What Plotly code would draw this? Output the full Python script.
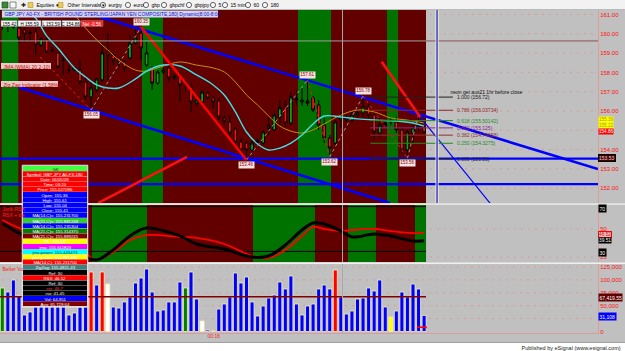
import plotly.graph_objects as go

W, H = 625, 351
FONT = "Liberation Sans"

# ------------------------------------------------------------------ data
bars = list(range(77))
opens = [160.51, 160.40, 160.51, 160.30, 160.20, 160.07, 160.09, 159.42, 159.68, 159.16,
         159.01, 158.64, 158.12, 158.12, 158.12, 157.50, 156.73, 157.09, 157.61, 159.06,
         158.90, 158.75, 158.54, 158.75, 159.52, 160.04, 158.38, 158.23, 157.45, 158.02,
         158.23, 157.71, 157.76, 157.50, 157.24, 156.41, 156.47, 156.93, 156.67, 156.52,
         155.64, 155.43, 155.07, 154.39, 154.34, 153.98, 154.39, 154.34, 155.12, 155.02,
         155.69, 156.21, 155.38, 156.57, 156.47, 156.52, 156.67, 156.31, 155.27, 154.60,
         154.34, 155.53, 155.53, 155.53, 155.79, 155.90, 156.21, 155.79, 154.86, 155.27,
         155.43, 155.43, 155.02, 153.98, 154.86, 155.12, 155.17]
highs = [160.72, 160.61, 160.72, 160.40, 160.30, 160.20, 160.30, 159.83, 159.78, 159.32,
         159.06, 158.80, 158.38, 158.28, 158.64, 157.71, 157.50, 157.71, 159.52, 160.04,
         159.01, 158.75, 158.64, 159.94, 160.30, 160.35, 159.58, 158.33, 158.12, 158.23,
         158.38, 157.92, 158.02, 157.61, 157.45, 156.67, 157.09, 157.04, 156.78, 156.67,
         155.79, 155.79, 155.17, 154.60, 154.50, 154.50, 154.60, 155.02, 155.69, 155.90,
         156.57, 156.57, 156.98, 157.09, 157.19, 157.61, 156.78, 156.57, 155.64, 154.76,
         155.53, 155.95, 155.79, 155.95, 156.05, 156.78, 156.41, 155.95, 155.64, 155.53,
         155.64, 155.69, 155.12, 155.02, 155.27, 155.79, 155.27]
lows = [160.20, 160.09, 160.25, 159.52, 159.58, 159.58, 158.90, 159.32, 159.01, 159.01,
        158.23, 157.87, 157.97, 158.07, 157.35, 156.57, 156.05, 156.98, 157.50, 157.61,
        158.38, 158.28, 158.02, 158.64, 159.42, 158.64, 158.28, 157.09, 157.35, 157.92,
        157.50, 157.61, 156.47, 156.98, 155.95, 156.26, 156.36, 156.57, 156.16, 155.53,
        155.27, 154.65, 154.13, 153.56, 153.46, 153.88, 154.24, 154.24, 154.76, 154.96,
        155.27, 155.17, 155.27, 156.31, 156.26, 156.26, 155.95, 155.02, 154.34, 153.62,
        154.24, 155.12, 155.43, 155.43, 155.64, 155.69, 155.64, 154.50, 154.60, 155.12,
        155.27, 154.86, 153.82, 153.56, 154.34, 154.91, 154.83]
closes = [160.40, 160.51, 160.35, 159.78, 159.99, 160.04, 159.42, 159.73, 159.06, 159.13,
          158.28, 158.62, 158.10, 158.23, 157.50, 156.73, 157.19, 157.66, 159.01, 158.90,
          158.64, 158.54, 158.23, 159.52, 159.78, 159.26, 159.01, 157.45, 158.02, 158.12,
          157.71, 157.81, 157.35, 157.40, 156.47, 156.57, 156.98, 156.67, 156.47, 155.69,
          155.48, 154.86, 154.39, 153.98, 153.98, 154.34, 154.45, 154.91, 155.22, 155.79,
          156.16, 155.38, 156.73, 156.62, 156.57, 156.41, 156.05, 155.27, 154.60, 154.08,
          155.43, 155.64, 155.64, 155.79, 155.90, 156.21, 155.79, 154.91, 155.27, 155.33,
          155.48, 155.02, 153.98, 154.91, 155.12, 155.22, 154.88]

jma_idx = [5, 6, 8, 10, 13, 15, 17, 19, 21, 24, 26, 29, 32, 35, 38, 40, 42, 44, 46, 48,
           50, 52, 54, 56, 58, 61, 64, 67, 71, 74, 76]
jma_val = [161.05, 160.82, 159.89, 159.26, 158.23, 157.76, 157.35, 157.19, 157.19, 157.66,
           158.07, 158.38, 158.33, 157.87, 157.35, 156.83, 155.95, 154.91, 154.29, 153.98,
           154.08, 154.34, 154.76, 155.33, 155.74, 155.69, 155.59, 155.53, 155.48, 155.38,
           155.22]
wma_idx = [12, 13, 15, 17, 19, 21, 24, 26, 29, 32, 35, 38, 40, 42, 44, 46, 48, 50, 52, 54,
           56, 58, 61, 64, 67, 70, 73, 76]
wma_val = [161.15, 160.97, 160.30, 159.68, 159.16, 158.64, 158.12, 158.07, 158.33, 158.54,
           158.38, 158.23, 158.02, 157.50, 156.83, 156.31, 155.74, 155.22, 154.96, 154.86,
           155.02, 155.33, 155.79, 156.05, 155.95, 155.64, 155.53, 155.38]

rsx_idx = [0, 3, 10, 15, 17, 20, 23, 26, 32, 35, 40, 45, 48, 51, 54, 56, 58, 61, 63, 67, 70, 74, 76]
rsx_black = [55.4, 46.4, 33.0, 25.0, 22.3, 31.3, 43.8, 50.9, 43.8, 36.6, 32.1, 25.0, 25.9,
             35.7, 49.1, 55.4, 54.5, 48.2, 42.9, 45.5, 43.8, 39.3, 39.51]
rsx_red = [58.0, 50.9, 40.2, 27.7, 22.3, 29.5, 40.2, 44.6, 42.9, 42.0, 36.6, 25.9, 24.1,
           31.3, 43.8, 51.8, 50.0, 48.2, 49.1, 50.0, 48.2, 46.4, 46.52]

volume = [84300, 76550, 99800, 68800, 32000, 37800, 60000, 72000, 55000, 65000,
          80000, 58000, 32000, 35900, 47500, 55000, 115300, 90100, 115300, 92000,
          47500, 45500, 57200, 66900, 94000, 103700, 121100, 76500, 39700, 41700,
          57200, 57200, 95900, 84300, 115300, 63000, 20300, 2900, 1000, 43600,
          53300, 66900, 113400, 94000, 105600, 57200, 30000, 49400, 64900, 70700,
          95900, 82400, 107600, 53300, 32000, 49400, 53300, 82400, 90100, 82400,
          119200, 66900, 33900, 39700, 63000, 64900, 84300, 78500, 99800, 47500,
          28100, 39700, 76500, 66900, 92000, 82400, 31108]
vol_special = {0: "#008000", 16: "#ff0000", 18: "#ff0000", 19: "#ffffff", 33: "#008000",
               36: "#ffffff", 60: "#ff0000", 70: "#ffff00"}
vol_avg = 67419.55

price_ticks = [152, 153, 154, 155, 156, 157, 158, 159, 160, 161]
price_hidden = [155]          # covered by the value flags in the reference
rsi_ticks = [25, 50]
vol_ticks = [0, 25000, 50000, 75000, 100000, 125000]
vol_hidden = [25000]          # covered by the last-volume flag

fib_ratios = [1.0, 0.786, 0.618, 0.5, 0.382, 0.25, 0.0]
fib_low, fib_high = 153.53, 156.72
fib_from, fib_to = 66.3, 81.2

zz_up = [(16, 25), (44, 55), (59, 65), (73, 75)]
zz_down = [(55, 59), (65, 73)]
zz_main = (25, 44)
zz_pre = ([6.8, 16], [158.80, 156.05])
pivots = [(16, "low"), (25, "high"), (44, "low"), (55, "high"), (59, "low"), (65, "high"), (73, "low")]

upper_channel = ([0, 107.33], [162.42, 152.99])
lower_channel = ([2.83, 69.86], [157.24, 151.23])
red_trend_a = ([68.36, 75.35], [158.55, 155.66])
red_trend_b = ([17.24, 33.28], [151.23, 153.62])
blue_thin = ([75.26, 87.87], [155.69, 151.23])
support_levels = [153.53, 152.21]
crosshair_price = 159.63
crosshair_bar = 61.3
now_bar = 78.33

main_green = [(-0.11, 2.88), (25.17, 28.95), (53.28, 59.23), (69.32, 71.30)]
rsi_green = [(16.16, 26.07), (45.17, 56.34), (62.29, 67.33), (74.36, 76.35)]

info_rows = [
    ("GK", "#40ff40", "#004000"),
    ("Symbol: GBP JPY A0-FX,180", "#ff0000", "white"),
    ("Date: 06/05/09", "#ff0000", "white"),
    ("Time: 03:20", "#ff0000", "white"),
    ("Price: 155.027096", "#ff0000", "white"),
    ("Open: 155.36", "#0000ff", "white"),
    ("High: 155.61", "#0000ff", "white"),
    ("Low: 155.04", "#0000ff", "white"),
    ("Close: 155.41", "#0000ff", "white"),
    ("MA(14,C)s: 155.231700", "#0000ff", "white"),
    ("MA(21,C)s: 155.881248", "#33cc33", "white"),
    ("MA(14,C)s: 155.235304", "#0000ff", "white"),
    ("MA(21,C)s: 155.314370", "#008000", "white"),
    ("MA(21,C)s: 155.889245", "#800000", "white"),
    ("PL: 155.08", "#ffff00", "white"),
    ("jma: 155.611823", "#ff00ff", "white"),
    ("jma power: 155.443473", "#00ffff", "#004040"),
    ("jma power: 155.881483", "#ffff00", "white"),
    ("MA(14,C): 155.231700", "#ff0000", "white"),
    ("ZigZag: 155.4811-43", "#408080", "white"),
    ("Ref: 30", "#000000", "white"),
    ("RSX: 46.52", "#ff0000", "white"),
    ("Ref: 30", "#000000", "white"),
    ("rsx: 46.7", "#000000", "#ff4040"),
    ("rsx: 41.45", "#000000", "white"),
    ("Vol: 64,951", "#0000ff", "white"),
    ("Avg: 65,729.64", "#800000", "white"),
]

# ------------------------------------------------------------------ layout helpers
PX0, DX = 2.3, 5.55


def bx(xpx):
    return (xpx - PX0) / DX


XR = [bx(0), bx(598)]
END = bx(426)
DARK, GREEN, GREY = "#620000", "#007200", "#c0c0c0"

shapes, annotations = [], []


def box(x0, y0, x1, y1, fill=None, line=None, lw=0, layer="above"):
    s = dict(type="rect", xref="paper", yref="paper", x0=x0 / W, x1=x1 / W,
             y0=1 - y1 / H, y1=1 - y0 / H, layer=layer,
             line=dict(width=lw, color=line or "rgba(0,0,0,0)"))
    if fill:
        s["fillcolor"] = fill
    shapes.append(s)


def circ(xc, yc, r, line="#404040", fill="#f8f8f8"):
    shapes.append(dict(type="circle", xref="paper", yref="paper", x0=(xc - r) / W, x1=(xc + r) / W,
                       y0=1 - (yc + r) / H, y1=1 - (yc - r) / H, fillcolor=fill,
                       line=dict(width=0.8, color=line), layer="above"))


def txt(s, x, y, size=5, color="black", xanchor="left", bg=None, border=None, pad=0.5, **kw):
    a = dict(text=s, x=x / W, y=1 - y / H, xref="paper", yref="paper", showarrow=False,
             xanchor=xanchor, yanchor="middle", font=dict(size=size, color=color, family=FONT),
             borderpad=pad)
    if bg:
        a["bgcolor"] = bg
    if border:
        a["bordercolor"] = border
        a["borderwidth"] = 1
    a.update(kw)
    annotations.append(a)


def dline(xref, yref, x0, x1, y0, y1, color, width=1, dash="solid", layer="above"):
    shapes.append(dict(type="line", xref=xref, yref=yref, x0=x0, x1=x1, y0=y0, y1=y1,
                       line=dict(color=color, width=width, dash=dash), layer=layer))


# background bands
for xa, ya, greens in (("x", "y domain", main_green), ("x2", "y2 domain", rsi_green)):
    shapes.append(dict(type="rect", xref=xa, yref=ya, x0=XR[0], x1=END, y0=0, y1=1,
                       fillcolor=DARK, line=dict(width=0), layer="below"))
    for a, b in greens:
        shapes.append(dict(type="rect", xref=xa, yref=ya, x0=a, x1=b, y0=0, y1=1,
                           fillcolor=GREEN, line=dict(width=0), layer="below"))

# dotted grids in the empty (future) area
gx0, gx1 = bx(430), bx(594)
for p in price_ticks:
    dline("x", "y", gx0, gx1, p, p, "#d89a9a", 1, "2px,5px", "below")
for v in rsi_ticks:
    dline("x2", "y2", gx0, gx1, v, v, "#d89a9a", 1, "2px,5px", "below")
for v in vol_ticks[1:]:
    dline("x3", "y3", bx(2), gx1, v, v, "#d89a9a", 1, "2px,5px", "below")
# RSI reference levels
for v in (70, 30):
    dline("x2", "y2", XR[0], END, v, v, "#000000", 1, "solid", "below")

# ------------------------------------------------------------------ traces
fig = go.Figure()
fig.add_trace(go.Candlestick(
    x=bars, open=opens, high=highs, low=lows, close=closes, whiskerwidth=0,
    increasing=dict(line=dict(color="black", width=1), fillcolor="#10a810"),
    decreasing=dict(line=dict(color="black", width=1), fillcolor="#ff1010"),
    xaxis="x", yaxis="y", hoverinfo="skip"))


def line(x, y, color, width=1, dash="solid", shape="linear", xa="x", ya="y"):
    fig.add_trace(go.Scatter(x=x, y=y, mode="lines", xaxis=xa, yaxis=ya, hoverinfo="skip",
                             line=dict(color=color, width=width, dash=dash, shape=shape)))


line(wma_idx, wma_val, "#c8900a", 1, shape="spline")
line(jma_idx, jma_val, "#40e0e8", 1.4, shape="spline")

for lvl in support_levels:
    line(XR, [lvl, lvl], "#0000ff", 2.4)
line(*upper_channel, "#0000ff", 2.6)
line(*lower_channel, "#0000ff", 2.6)

# zigzag legs
ux, uy = [], []
for a, b in zz_up:
    ux += [a, b, None]
    uy += [lows[a], highs[b], None]
line(ux, uy, "#9a9a9a", 1, "dot")
dx_, dy_ = list(zz_pre[0]) + [None], list(zz_pre[1]) + [None]
for a, b in zz_down:
    dx_ += [a, b, None]
    dy_ += [highs[a], lows[b], None]
line(dx_, dy_, "#e02020", 1, "dot")
line([zz_main[0], zz_main[1]], [highs[zz_main[0]], lows[zz_main[1]]], "#ff0000", 2.6)
line(*red_trend_a, "#ff1010", 2.6)
line(*red_trend_b, "#ff1010", 2.6)
line(*blue_thin, "#0000ff", 1.2)

fib_colors = ["#202020", "#902828", "#1e8c1e", "#8c2a8c", "#903030", "#1e8c1e", "#202020"]
for r, c in zip(fib_ratios, fib_colors):
    v = fib_low + r * (fib_high - fib_low)
    line([fib_from, fib_to], [v, v], c, 1)
    lab = ("%.5f" % v).rstrip("0").rstrip(".")
    annotations.append(dict(text=f"{r:.3f} ({lab})", x=fib_to + 0.3, y=v, xref="x", yref="y",
                            showarrow=False, xanchor="left", yanchor="middle",
                            font=dict(size=5, color=c, family=FONT)))

# pivot labels
for i, kind in pivots:
    p = highs[i] if kind == "high" else lows[i]
    annotations.append(dict(text=f"{p:.2f}", x=i, y=p, xref="x", yref="y", showarrow=False,
                            yshift=5 if kind == "high" else -5, xanchor="center",
                            font=dict(size=4.5, color="#900000", family=FONT),
                            bgcolor="#f2e2e2", borderpad=0.3))

# RSI
line(rsx_idx, rsx_red, "#ff0000", 1.8, shape="spline", xa="x2", ya="y2")
line(rsx_idx, rsx_black, "#000000", 3, shape="spline", xa="x2", ya="y2")

# Volume
vcol = [vol_special.get(i, "#0000ff") for i in bars]
fig.add_trace(go.Bar(x=bars, y=volume, marker=dict(color=vcol, line=dict(color="#f4f0c0", width=0.8)),
                     width=0.72, xaxis="x3", yaxis="y3", hoverinfo="skip"))
line([XR[0], END], [vol_avg, vol_avg], "#800000", 1.6, xa="x3", ya="y3")
line([74.7, 76.5], [8700, 8000], "#ff0000", 1.6, xa="x3", ya="y3")

# crosshair & current-bar line
dline("x", "y", XR[0], END, crosshair_price, crosshair_price, "#a0a0a0", 1)
dline("x", "y", END, XR[1], crosshair_price, crosshair_price, "#8b5050", 1)
shapes.append(dict(type="line", xref="x", yref="paper", x0=crosshair_bar, x1=crosshair_bar,
                   y0=1 - 333 / H, y1=1 - 10 / H, line=dict(color="#a8a8a8", width=1), layer="above"))
shapes.append(dict(type="line", xref="x", yref="y domain", x0=now_bar, x1=now_bar, y0=0, y1=1,
                   line=dict(color="#ffffa8", width=3), layer="above"))
shapes.append(dict(type="line", xref="x", yref="y domain", x0=now_bar, x1=now_bar, y0=0, y1=1,
                   line=dict(color="#0000ff", width=1.2), layer="above"))

# ------------------------------------------------------------------ chrome
# panel separators
box(0, 203.3, W, 205, "#e4e4e4")
box(0, 262.4, W, 264, "#f0f0f0")
box(0, 342.5, W, H, "#ffffff")
box(0, 342, W, 343, "#a0a0a0")
txt("Published by eSignal (www.esignal.com)", 622, 347, 5.5, "#202020", xanchor="right")
txt("00:16", 214, 335.5, 5, "#ff2020", xanchor="center")

# toolbar
box(0, 0, W, 9.5, "#f2f2f2")
box(0, 9.2, W, 10, "#b0b0b0")
box(2, 2, 8, 8, "#3a8a3a", "#204020", 0.6)
box(10, 2, 16, 8, "#f8f8f8", "#404040", 0.6)
txt("✚", 22.5, 5, 6, "#202020", xanchor="center")
box(28, 2.5, 33, 7.5, "#f0cc50", "#a08020", 0.5)
txt("Equities ▾", 35, 5, 5)
box(58, 2.5, 63, 7.5, "#f0cc50", "#a08020", 0.5)
txt("Other Intervals ▾", 66, 5, 5)
for label, xc in [("eurjpy", 103), ("euro", 128), ("gbp", 146), ("gbpchf", 164), ("gbpjpy", 189),
                  ("5", 213), ("15 min", 225), ("60", 248), ("180", 265)]:
    circ(xc, 5, 2.6)
    txt(label, xc + 4, 5, 5)

# title & info strip
box(2, 10.5, 218, 17.5, "#d4d4f4")
txt("GBP JPY A0-FX - BRITISH POUND STERLING/JAPAN YEN COMPOSITE,180| Dynamic|8:00-8:00",
    3, 14, 4.9, "#1010c8")
for x0, x1, s, bg, fg in [(1, 17, "155.42", "#f4f4f4", "black"), (18, 41, "H 155.59", "#f4f4f4", "black"),
                          (42, 61, "L 153.59", "#f4f4f4", "black"), (62, 80, "C 154.86", "#f4f4f4", "black"),
                          (81, 103, "Net -0.56", "#ff2020", "white")]:
    box(x0, 20.5, x1, 26.5, bg, "#808080", 0.5)
    txt(s, (x0 + x1) / 2, 23.5, 4.5, fg, xanchor="center")
box(1, 63, 51, 69, "#e8c8c8")
txt("JMA (WMA) 20,2-10)", 2, 66, 5, "#d00000")
box(1, 81, 58, 87, "#e8c8c8")
txt("Zig Zag Indicator (1.58%)", 2, 84, 5, "#d00000")
txt("neon get aus21 1hr before close", 449, 91, 5, "#101010")

# panel titles
txt("Jurik RSX", 1, 208, 5, "#ff2020")
txt("RSX + tra", 1, 214, 5, "#ff2020")
txt("Better Vo", 1, 268.5, 5, "#ff2020")

# right-axis value flags
XF = 597.5
txt("155.39", XF, 119.5, 4.6, "#a0a000", bg="#ffff00", pad=0)
txt("155.22", XF, 125.2, 4.6, "#a0a000", bg="#ffff00", pad=0)
txt("154.86", XF, 131.2, 4.6, "white", bg="#ff0000", pad=0)
txt("153.53", XF, 158, 5, "#ffd0d0", bg="#400000", border="#000000", pad=0)
txt("70", XF, 208.5, 5, "white", bg="#000000")
txt("46.52", XF, 234, 4.8, "#ff0000", bg="#c8c8c8", border="#ff0000", pad=0)
txt("39.51", XF, 240.8, 4.8, "white", bg="#000000", pad=0)
txt("30", XF, 252, 5, "white", bg="#000000")
txt("67,419.55", XF, 297, 5, "white", bg="#600000")
txt("31,108", XF, 316, 5, "white", bg="#0000ff")

# data window
bx0, bx1, ry0, rh = 23, 87, 166, 5.2
box(bx0 - 0.8, ry0 - 0.8, bx1 + 0.8, ry0 + rh * len(info_rows) + 0.8, "#d8d8d8", "#e8e8e8", 0.8)
for k, (s, bg, fg) in enumerate(info_rows):
    y0 = ry0 + rh * k
    box(bx0, y0, bx1, y0 + rh - 0.3, bg)
    txt(s, (bx0 + bx1) / 2, y0 + rh / 2, 4.3, fg, xanchor="center")

# ------------------------------------------------------------------ axes
XD = [0, 598 / W]


def ydom(top, bottom):
    return [1 - bottom / H, 1 - top / H]


axis_font = dict(size=6, color="#ff1010", family=FONT)
common_x = dict(range=XR, domain=XD, showgrid=False, zeroline=False, showticklabels=False,
                fixedrange=True, automargin=False)
common_y = dict(side="right", showgrid=False, zeroline=False, showline=True, linecolor="#e09a9a",
                linewidth=1, ticks="", tickfont=axis_font, automargin=False, fixedrange=True)

fig.update_layout(
    width=W, height=H, template="none", showlegend=False,
    margin=dict(l=0, r=0, t=0, b=0, pad=0),
    paper_bgcolor=GREY, plot_bgcolor=GREY, boxgap=0.3, bargap=0.28,
    xaxis=dict(**common_x, anchor="y", rangeslider=dict(visible=False)),
    xaxis2=dict(**common_x, anchor="y2"),
    xaxis3=dict(**common_x, anchor="y3", showline=True, linecolor="#e09a9a"),
    yaxis=dict(**common_y, domain=ydom(10, 203), range=[151.233, 161.233], anchor="x",
               tickvals=price_ticks,
               ticktext=["" if v in price_hidden else f"{v:.2f}" for v in price_ticks]),
    yaxis2=dict(**common_y, domain=ydom(205, 262), range=[20.54, 71.43], anchor="x2",
                tickvals=rsi_ticks, ticktext=[str(v) for v in rsi_ticks]),
    yaxis3=dict(**common_y, domain=ydom(264, 333), range=[-2907, 130814], anchor="x3",
                tickvals=vol_ticks,
                ticktext=["" if v in vol_hidden else f"{v:,}" for v in vol_ticks]),
    shapes=shapes, annotations=annotations,
)

fig.write_html("out.html", config={"displayModeBar": False, "staticPlot": True})
